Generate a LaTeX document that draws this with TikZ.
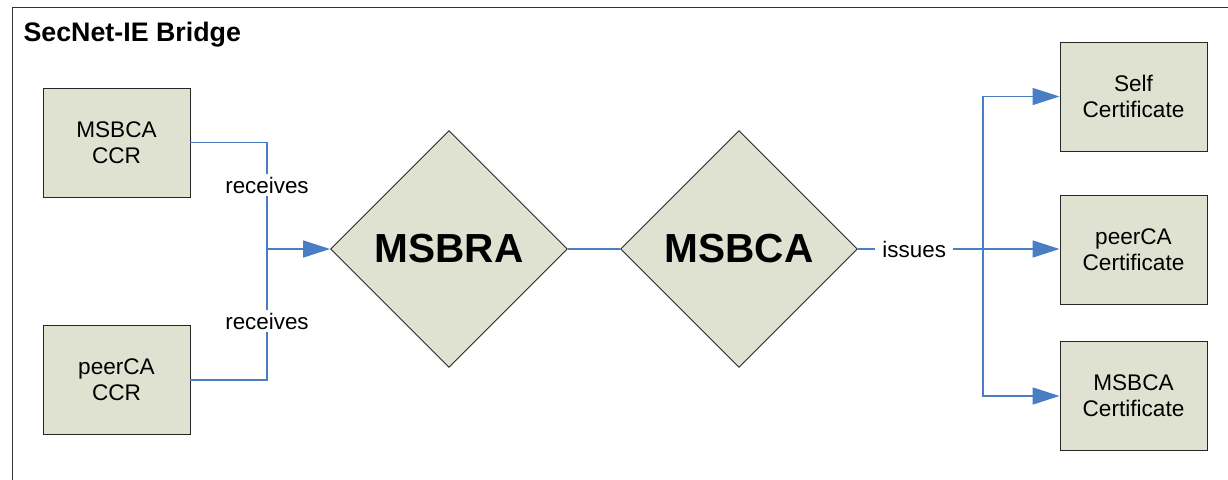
\documentclass[tikz,border=0pt]{standalone}
\usepackage{fontspec}
\setmainfont{Liberation Sans}
\usetikzlibrary{shapes.geometric,arrows.meta}
\definecolor{boxfill}{HTML}{DFE2D0}
\definecolor{wire}{HTML}{4A7EC4}
\definecolor{frameline}{HTML}{333333}
\tikzset{
  entity/.style={draw=black!85, line width=0.9pt, fill=boxfill, minimum width=147pt,
    minimum height=109pt, inner sep=0pt, align=center, font=\fontsize{22.6}{26}\selectfont},
  role/.style={diamond, draw=black!85, line width=0.9pt, fill=boxfill, aspect=1,
    minimum width=237pt, minimum height=237pt, inner sep=0pt,
    font=\fontsize{40.6}{44}\selectfont\bfseries},
  wireline/.style={draw=wire, line width=1.5pt},
  feed/.style={wireline, -{Triangle[length=27pt, width=17pt]}},
  lbl/.style={fill=white, inner xsep=7pt, inner ysep=3pt, font=\fontsize{22.4}{24}\selectfont}
}
\begin{document}
\begin{tikzpicture}[x=1pt, y=-1pt]
  \useasboundingbox (0,0) rectangle (1228,479);
  \begin{scope}
    \clip (0,0) rectangle (1228,479);
    \draw[frameline, line width=1pt] (12,500) -- (12,7) -- (1240,7);
  \end{scope}
  \node[anchor=base west, font=\fontsize{26.8}{29}\selectfont\bfseries] (title) at (20,41) {SecNet-IE Bridge};

  % certificate requests on the left
  \node[entity] (ccrA) at (116.5,142.5) {MSBCA\\CCR};
  \node[entity] (ccrB) at (116.5,380) {peerCA\\CCR};

  % registration and certification authorities
  \node[role] (bra) at (449,249) {MSBRA};
  \node[role] (bca) at (739,249) {MSBCA};

  % issued certificates on the right
  \node[entity] (certSelf) at (1133.5,96.5) {Self\\Certificate};
  \node[entity] (certPeer) at (1133.5,250) {peerCA\\Certificate};
  \node[entity] (certBca) at (1133.5,396) {MSBCA\\Certificate};

  \coordinate (join) at (267,249);
  \coordinate (fork) at (983,249);

  \draw[wireline] (ccrA.east) -| (join) node[lbl, pos=0.7] (recA) {receives};
  \draw[wireline] (ccrB.east) -| (join) node[lbl, pos=0.725] (recB) {receives};
  \draw[feed] (join) -- (bra.west);

  \draw[wireline] (bra.east) -- (bca.west);

  \draw[wireline] (bca.east) -- (fork) node[lbl, pos=0.45] (iss) {issues};
  \draw[feed] (fork) |- (certSelf.west);
  \draw[feed] (fork) -- (certPeer.west |- fork);
  \draw[feed] (fork) |- (certBca.west);
\end{tikzpicture}
\end{document}
